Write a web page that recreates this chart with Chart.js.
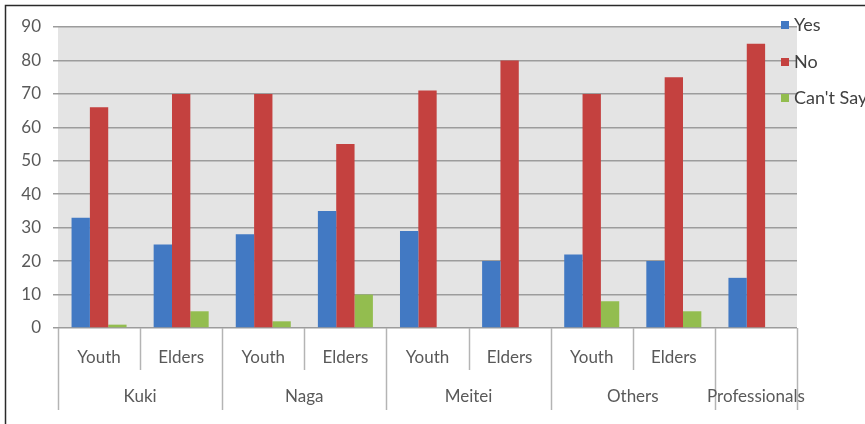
<!DOCTYPE html>
<html>
<head>
<meta charset="utf-8">
<script src="https://cdn.jsdelivr.net/npm/chart.js@4/dist/chart.umd.min.js"></script>
<style>
  html, body { margin: 0; padding: 0; background: #ffffff; }
  #wrap { width: 865px; height: 424px; }
</style>
</head>
<body>
<div id="wrap"><canvas id="c" width="865" height="424"></canvas></div>
<script>
// Respondent groups and their sub-groups
const groups = ['Kuki', 'Naga', 'Meitei', 'Others', 'Professionals'];
const groupSizes = [2, 2, 2, 2, 1];
const subLabels = ['Youth', 'Elders', 'Youth', 'Elders', 'Youth', 'Elders', 'Youth', 'Elders', ''];

// Responses (%)
const yesValues = [33, 25, 28, 35, 29, 20, 22, 20, 15];
const noValues = [66, 70, 70, 55, 71, 80, 70, 75, 85];
const cantSayValues = [1, 5, 2, 10, 0, 0, 8, 5, 0];

const seriesNames = ['Yes', 'No', "Can't Say"];
const seriesColors = ['#4279c3', '#c4413f', '#93bd4f'];

const FONT = 'Lato, "Open Sans", sans-serif';

// Background panel, two-level category axis, legend and frame
const decor = {
  id: 'decor',
  beforeDraw(chart) {
    const { ctx, chartArea: a } = chart;
    ctx.save();
    ctx.fillStyle = '#ffffff';
    ctx.fillRect(0, 0, chart.width, chart.height);
    ctx.fillStyle = '#e4e4e4';
    ctx.fillRect(a.left, a.top, a.right - a.left, a.bottom - a.top);
    ctx.restore();
  },
  afterDraw(chart) {
    const { ctx, chartArea: a } = chart;
    const xs = chart.scales.x;
    const half = (xs.getPixelForValue(1) - xs.getPixelForValue(0)) / 2;
    const edge = i => i === 0 ? xs.getPixelForValue(0) - half : xs.getPixelForValue(i - 1) + half;
    const n = subLabels.length;

    // group boundaries
    const bounds = [0];
    groupSizes.forEach(s => bounds.push(bounds[bounds.length - 1] + s));

    ctx.save();
    ctx.strokeStyle = '#b4b4b4';
    ctx.lineWidth = 1.5;
    for (let i = 0; i <= n; i++) {
      const x = Math.round(edge(i)) + 0.5;
      const long = bounds.includes(i);
      ctx.beginPath();
      ctx.moveTo(x, a.bottom);
      ctx.lineTo(x, a.bottom + (long ? 82 : 42));
      ctx.stroke();
    }

    // group labels
    ctx.fillStyle = '#595959';
    ctx.font = '17px ' + FONT;
    ctx.textAlign = 'center';
    ctx.textBaseline = 'middle';
    groups.forEach((g, k) => {
      const x0 = edge(bounds[k]);
      const x1 = edge(bounds[k + 1]);
      ctx.fillText(g, (x0 + x1) / 2, 397);
    });

    // legend
    const ly = [25, 62, 98];
    ctx.textAlign = 'left';
    ctx.font = '18px ' + FONT;
    chart.data.datasets.forEach((ds, k) => {
      ctx.fillStyle = ds.backgroundColor;
      ctx.fillRect(781, ly[k] - 4, 8, 8);
      ctx.fillStyle = '#404040';
      ctx.fillText(ds.label, 794, ly[k]);
    });

    // outer frame
    ctx.strokeStyle = '#2a2a2a';
    ctx.lineWidth = 1.5;
    ctx.beginPath();
    ctx.moveTo(5.5, chart.height);
    ctx.lineTo(5.5, 5.5);
    ctx.lineTo(chart.width, 5.5);
    ctx.stroke();
    ctx.restore();
  }
};

const valueSets = [yesValues, noValues, cantSayValues];

new Chart(document.getElementById('c'), {
  type: 'bar',
  data: {
    labels: subLabels,
    datasets: seriesNames.map((name, k) => ({
      label: name,
      data: valueSets[k],
      backgroundColor: seriesColors[k],
      borderWidth: 0,
      categoryPercentage: 0.67,
      barPercentage: 1
    }))
  },
  options: {
    responsive: false,
    animation: false,
    layout: { padding: { top: 27, right: 68, left: 0, bottom: 0 } },
    plugins: { legend: { display: false }, tooltip: { enabled: false } },
    scales: {
      x: {
        grid: { display: false, drawTicks: false },
        border: { display: false },
        ticks: { color: '#595959', font: { family: FONT, size: 17 }, padding: 19, maxRotation: 0, autoSkip: false },
        afterFit(s) { s.height = 96; }
      },
      y: {
        min: 0,
        max: 90,
        ticks: { stepSize: 10, color: '#595959', font: { family: FONT, size: 17 }, padding: 12 },
        grid: { color: '#9c9c9c', lineWidth: 1.5, tickLength: 5, drawTicks: true },
        border: { display: false },
        afterFit(s) { s.width = 58; }
      }
    }
  },
  plugins: [decor]
});
</script>
</body>
</html>
